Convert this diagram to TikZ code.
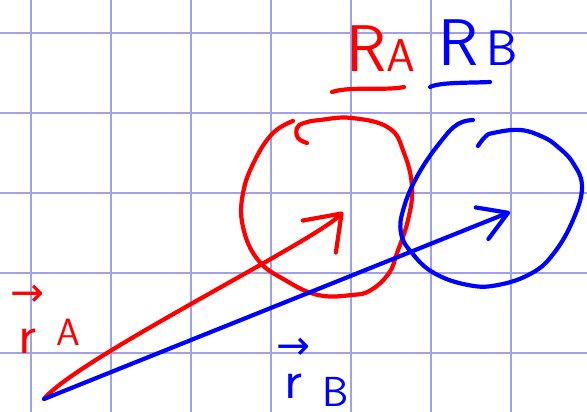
\documentclass[tikz,border=0pt]{standalone}
\usepackage{fontspec}
\usepackage{graphicx}
\newfontfamily\symfont{DejaVu Sans}
\usetikzlibrary{arrows.meta}
\definecolor{gridblue}{RGB}{160,160,238}
\newcommand{\arrowover}[2][0pt]{\leavevmode\vbox{\offinterlineskip\halign{\hfil##\hfil\cr\resizebox{34pt}{!}{\symfont →}\cr\noalign{\kern#1}#2\cr}}}
\tikzset{gridline/.style={draw=gridblue,line width=1.6pt},pen/.style={line width=4.2pt,line cap=round,line join=round},lbl/.style={inner sep=0pt,anchor=base west,font=\sffamily\fontsize{66}{66}\selectfont},vlbl/.style={inner sep=0pt,anchor=base west,font=\sffamily\fontsize{56}{56}\selectfont},tipa/.style={-{Straight Barb[length=32pt,width=46pt,line cap=round,line join=round]}},tipb/.style={-{Straight Barb[length=28pt,width=34pt,line cap=round,line join=round]}}}

\begin{document}
\begin{tikzpicture}[x=1pt,y=-1pt]
\useasboundingbox (0,0) rectangle (587,412);
\foreach \gx in {31,111,...,511} \draw[gridline] (\gx,0) -- (\gx,412);
\foreach \gy in {33,113,...,353} \draw[gridline] (0,\gy) -- (587,\gy);
% the two spheres
\draw[pen,red] plot[smooth,tension=0.7] coordinates {(307,143) (298,138) (297,128) (304,123) (320,120) (352,118) (389,128) (404,153) (412,187) (408,220) (397,253) (389,273) (371,290) (352,295) (318,295) (285,280) (258,260) (243,227) (243,193) (255,160) (273,133) (293,121)};
\draw[pen,blue] plot[smooth,tension=0.7] coordinates {(478,146) (485,137) (493,133) (520,130) (543,137) (558,147) (573,163) (582,187) (573,220) (554,253) (532,273) (498,285) (468,285) (434,273) (412,253) (401,233) (404,207) (419,173) (442,140) (458,124) (473,120)};
% position vectors
\coordinate (o) at (44,399);
\coordinate (ta) at (343,212);
\coordinate (tb) at (510,212);
\draw[pen,red,tipa] (o) .. controls (75,360) and (315,241) .. (ta);
\draw[pen,blue,tipb] (o) -- (tb);
% labels
\node[lbl,red] (lra) at (346,72) {R{\fontsize{46}{46}\selectfont A}};
\node[lbl,blue] (lrb) at (438,66) {R\kern8pt{\fontsize{50}{50}\selectfont B}};
\node[vlbl,red] (lva) at (10,353) {\arrowover[22pt]{r}\kern12pt\raisebox{8pt}{\fontsize{38}{38}\selectfont A}};
\node[vlbl,blue] (lvb) at (276,398) {\arrowover[14pt]{r}\kern12pt\raisebox{-8pt}{\fontsize{42}{42}\selectfont B}};
\draw[pen,red] (332,92) .. controls (350,86) and (385,91) .. (404,87);
\draw[pen,blue] (430,87) .. controls (440,82) and (470,83) .. (490,82);
\end{tikzpicture}
\end{document}
